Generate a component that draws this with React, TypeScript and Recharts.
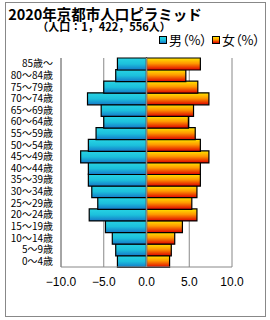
import { Bar, BarChart, CartesianGrid, ReferenceLine, XAxis, YAxis } from 'recharts'

const ageGroups = [
  '0〜4歳', '5〜9歳', '10〜14歳', '15〜19歳', '20〜24歳', '25〜29歳',
  '30〜34歳', '35〜39歳', '40〜44歳', '45〜49歳', '50〜54歳', '55〜59歳',
  '60〜64歳', '65〜69歳', '70〜74歳', '75〜79歳', '80〜84歳', '85歳〜',
]
const malePct = [3.4, 3.6, 4.0, 4.8, 6.7, 5.7, 6.4, 6.8, 6.8, 7.7, 6.8, 5.9, 5.0, 5.3, 6.9, 5.0, 3.6, 3.4]
const femalePct = [2.7, 2.9, 3.3, 4.2, 5.9, 5.3, 5.9, 6.3, 6.3, 7.3, 6.3, 5.7, 4.9, 5.5, 7.3, 6.0, 4.6, 6.3]
const xTicks = [-10, -5, 0, 5, 10]

const cjk = '"Noto Sans CJK JP", sans-serif'
const maleGrad = 'linear-gradient(#28d4e4, #1cc0dc 50%, #1478c8)'
const femaleGrad = 'linear-gradient(#ffe600, #ff9900 45%, #dd0000)'

const data = ageGroups.map((age, i) => ({
  age,
  male: -malePct[i],
  female: femalePct[i],
}))

function LegendItem({ label, bg }: { label: string; bg: string }) {
  return (
    <div style={{ display: 'flex', alignItems: 'center', marginRight: 5 }}>
      <div style={{ width: 6, height: 6, border: '1px solid #000', background: bg, marginRight: 2 }} />
      <span>{label}</span>
    </div>
  )
}

export default function App() {
  return (
    <div style={{ position: 'absolute', left: 0, top: 0, width: 270, height: 320, background: '#fff' }}>
      <div
        style={{
          position: 'absolute', left: 5, top: 2, width: 259, height: 313,
          border: '1px solid #888',
        }}
      />
      <div
        style={{
          position: 'absolute', left: 0, top: 7, width: 210, height: 14, textAlign: 'center',
          fontFamily: cjk, fontWeight: 700, fontSize: 14.5, lineHeight: '14px', color: '#000',
        }}
      >
        2020年京都市人口ピラミッド
      </div>
      <div
        style={{
          position: 'absolute', left: 0, top: 21, width: 208, height: 11, textAlign: 'center',
          fontFamily: cjk, fontWeight: 700, fontSize: 11, lineHeight: '11px', color: '#000',
        }}
      >
        （人口：1，422，556人）
      </div>
      <div
        style={{
          position: 'absolute', left: 159, top: 33, display: 'flex',
          fontFamily: cjk, fontSize: 13, lineHeight: '14px', color: '#000',
          fontFeatureSettings: '"palt"',
        }}
      >
        <LegendItem label="男（%）" bg={maleGrad} />
        <LegendItem label="女（%）" bg={femaleGrad} />
      </div>
      <div style={{ position: 'absolute', left: 0, top: 0 }}>
        <BarChart
          width={270}
          height={320}
          data={data}
          layout="vertical"
          stackOffset="sign"
          barCategoryGap={0}
          margin={{ top: 58, right: 38, bottom: 23, left: 5 }}
        >
          <defs>
            <linearGradient id="maleFill" x1="0" y1="0" x2="0" y2="1">
              <stop offset="0%" stopColor="#28d4e4" />
              <stop offset="50%" stopColor="#1cc0dc" />
              <stop offset="100%" stopColor="#1478c8" />
            </linearGradient>
            <linearGradient id="femaleFill" x1="0" y1="0" x2="0" y2="1">
              <stop offset="0%" stopColor="#ffe600" />
              <stop offset="45%" stopColor="#ff9900" />
              <stop offset="100%" stopColor="#dd0000" />
            </linearGradient>
          </defs>
          <CartesianGrid horizontal={false} stroke="#888" />
          <XAxis
            type="number"
            domain={[-10, 10]}
            ticks={xTicks}
            tickFormatter={(v: number) => (v < 0 ? `−${Math.abs(v).toFixed(1)}` : v.toFixed(1))}
            axisLine={{ stroke: '#888' }}
            tickLine={false}
            tickMargin={4}
            tick={{ fill: '#000', fontSize: 12, fontFamily: '"Liberation Sans", Arial, sans-serif' }}
            height={30}
          />
          <YAxis
            type="category"
            dataKey="age"
            reversed
            interval={0}
            width={56}
            axisLine={{ stroke: '#888' }}
            tickLine={false}
            tickSize={0}
            tickMargin={8}
            tick={{ fill: '#000', fontSize: 10, fontFamily: cjk }}
          />
          <Bar dataKey="male" stackId="p" fill="url(#maleFill)" stroke="#000" strokeWidth={1.2} isAnimationActive={false} />
          <Bar dataKey="female" stackId="p" fill="url(#femaleFill)" stroke="#000" strokeWidth={1.2} isAnimationActive={false} />
          <ReferenceLine x={0} stroke="#888" strokeWidth={1.5} />
        </BarChart>
      </div>
    </div>
  )
}
